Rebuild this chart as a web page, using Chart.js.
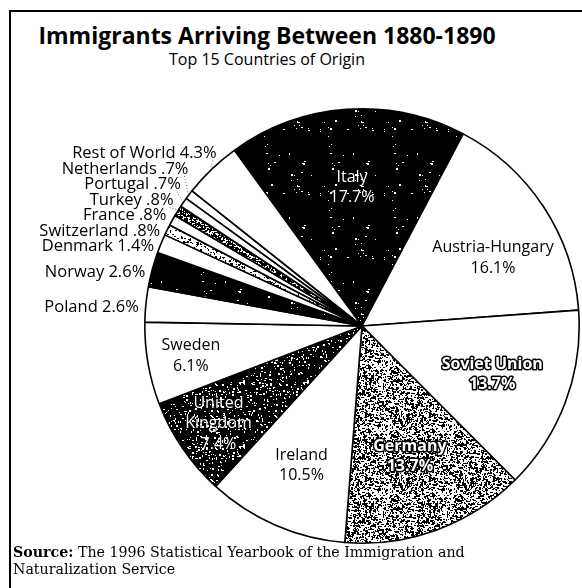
<!DOCTYPE html>
<html>
<head>
<meta charset="utf-8">
<script src="https://cdn.jsdelivr.net/npm/chart.js@4"></script>
<style>
  body { margin: 0; background: #fff; }
  #wrap { position: relative; width: 582px; height: 588px; overflow: hidden; }
  #frame { position: absolute; left: 9px; top: 10px; width: 600px; height: 600px;
           border-left: 2px solid #000; border-top: 2px solid #000; }
  #title { position: absolute; left: 0; width: 534px; top: 19px; text-align: center;
           font: bold 23px "Open Sans", sans-serif; color: #000; }
  #subtitle { position: absolute; left: 0; width: 534px; top: 48px; text-align: center;
              font: 16px "Open Sans", sans-serif; color: #000; }
  #source { position: absolute; left: 13px; top: 544px; font: 14.2px "DejaVu Serif", serif;
            line-height: 17px; color: #000; }
  canvas { position: absolute; left: 0; top: 0; }
</style>
</head>
<body>
<div id="wrap">
  <div id="frame"></div>
  <div id="title">Immigrants Arriving Between 1880-1890</div>
  <div id="subtitle">Top 15 Countries of Origin</div>
  <canvas id="pie" width="582" height="588"></canvas>
  <div id="source"><b>Source:</b> The 1996 Statistical Yearbook of the Immigration and<br>Naturalization Service</div>
</div>
<script>
// Data
var countries = ['Italy', 'Austria-Hungary', 'Soviet Union', 'Germany', 'Ireland', 'United Kingdom',
                 'Sweden', 'Poland', 'Norway', 'Denmark', 'Switzerland', 'France', 'Turkey',
                 'Portugal', 'Netherlands', 'Rest of World']
var shares = [17.7, 16.1, 13.7, 13.7, 10.5, 7.4, 6.1, 2.6, 2.6, 1.4, 0.8, 0.8, 0.8, 0.7, 0.7, 4.3]
var shareText = ['17.7%', '16.1%', '13.7%', '13.7%', '10.5%', '7.4%', '6.1%', '2.6%', '2.6%', '1.4%',
                 '.8%', '.8%', '.8%', '.7%', '.7%', '4.3%']
// which slices get their label outside, on the left
var outside = [false, false, false, false, false, false, false, true, true, true, true, true, true, true, true, true]

// speckled fills, like the print
function speckle(base, dot, amount, seed) {
    var c = document.createElement('canvas')
    c.width = 64; c.height = 64
    var g = c.getContext('2d')
    g.fillStyle = base
    g.fillRect(0, 0, 64, 64)
    g.fillStyle = dot
    var s = seed >>> 0
    function next() {
        s = (s + 0x6D2B79F5) >>> 0
        var t = Math.imul(s ^ (s >>> 15), 1 | s)
        t ^= t + Math.imul(t ^ (t >>> 7), 61 | t)
        return ((t ^ (t >>> 14)) >>> 0) / 4294967296
    }
    for (let i = 0; i < amount; i++) {
        var x = Math.floor(next() * 64)
        var y = Math.floor(next() * 64)
        g.fillRect(x, y, next() < 0.4 ? 2 : 1, next() < 0.3 ? 2 : 1)
    }
    return g.createPattern(c, 'repeat')
}

var ctx = document.getElementById('pie').getContext('2d')
var black = speckle('#000000', '#ffffff', 35, 7)
var ukFill = speckle('#000000', '#ffffff', 260, 11)
var grey = speckle('#ffffff', '#000000', 1300, 3)
var dark = speckle('#ffffff', '#000000', 2600, 5)
var light = speckle('#ffffff', '#000000', 500, 9)
var fills = [black, '#fff', '#fff', grey, '#fff', ukFill, '#fff', '#fff', black, '#fff',
             light, '#fff', dark, '#fff', '#fff', '#fff']

var labelPlugin = {
    id: 'sliceLabels',
    afterDatasetsDraw(chart) {
        var c = chart.ctx
        var arcs = chart.getDatasetMeta(0).data
        c.save()
        c.textBaseline = 'middle'
        var prevY = 1e9
        for (let i = 0; i < arcs.length; i++) {
            var a = arcs[i]
            var mid = (a.startAngle + a.endAngle) / 2
            var r = a.outerRadius
            if (!outside[i]) {
                var hollow = (i == 2 || i == 3)
                c.font = (hollow ? 'bold ' : '') + '16px "Open Sans", sans-serif'
                var k = shares[i] < 9 ? 0.8 : 0.64
                if (i == 1) { mid += 0.1; k = 0.68 }
                if (i == 4) { k = 0.7 }
                var px = a.x + Math.cos(mid) * r * k
                var py = a.y + Math.sin(mid) * r * k
                var lines = countries[i] == 'United Kingdom' ? ['United', 'Kingdom', shareText[i]] : [countries[i], shareText[i]]
                c.textAlign = 'center'
                for (let j = 0; j < lines.length; j++) {
                    var ly = py + (j - (lines.length - 1) / 2) * 20.5
                    if (hollow) {
                        // outlined lettering
                        c.lineWidth = 3
                        c.lineJoin = 'round'
                        c.strokeStyle = '#000'
                        c.strokeText(lines[j], px, ly)
                        c.fillStyle = '#fff'
                    } else if (i == 0 || i == 5) {
                        c.fillStyle = '#fff'
                    } else {
                        c.fillStyle = '#000'
                    }
                    c.fillText(lines[j], px, ly)
                }
            } else {
                c.font = '16.5px "Open Sans", sans-serif'
                var nx = a.x + Math.cos(mid) * r
                var ny = a.y + Math.sin(mid) * r
                var ty = Math.min(ny + 3, prevY - 15.5)
                prevY = ty
                var tx = nx - 7 + Math.max(0, ny - ty) * 0.25
                if (shares[i] > 4) tx += 8
                c.textAlign = 'right'
                c.fillStyle = '#000'
                c.fillText(countries[i] + ' ' + shareText[i], tx, ty)
                if (ny - ty > 8) {
                    c.strokeStyle = '#666'
                    c.lineWidth = 1
                    c.setLineDash([1, 2])
                    c.beginPath()
                    c.moveTo(tx - 4, ty + 7)
                    c.lineTo(nx - 1, ny - 1)
                    c.stroke()
                    c.setLineDash([])
                }
            }
        }
        c.restore()
    }
}

var pieChart = new Chart(ctx, {
    type: 'pie',
    data: {
        labels: countries,
        datasets: [{
            data: shares,
            backgroundColor: fills,
            borderColor: '#000',
            borderWidth: 1.6,
        }],
    },
    options: {
        responsive: false,
        animation: false,
        rotation: -36,
        layout: { padding: { left: 144, right: 2, top: 108, bottom: 44 } },
        plugins: { legend: { display: false }, tooltip: { enabled: false } },
    },
    plugins: [labelPlugin],
})
</script>
</body>
</html>
